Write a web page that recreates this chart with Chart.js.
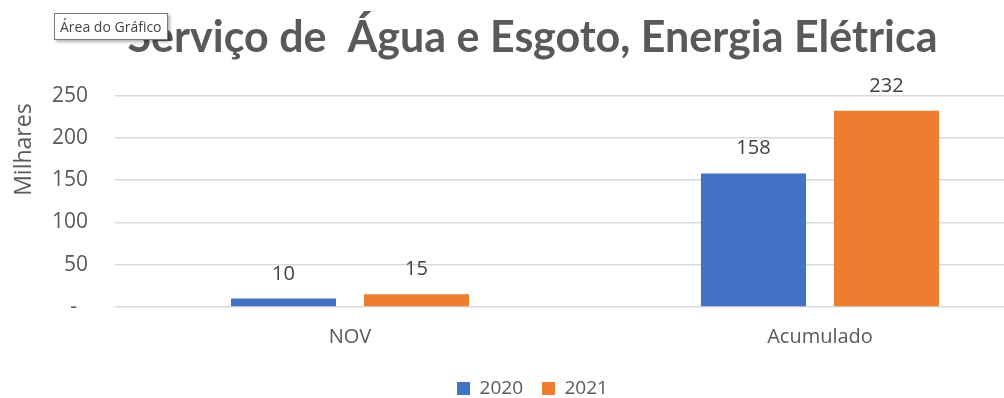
<!DOCTYPE html>
<html>
<head>
<meta charset="utf-8">
<script src="https://cdn.jsdelivr.net/npm/chart.js@4"></script>
<style>
  html, body { margin: 0; padding: 0; background: #fff; overflow: hidden; }
  #wrap { position: relative; width: 1066px; height: 408px; }
  #tag {
    position: absolute; left: 54px; top: 13px; z-index: 2;
    background: #fff; border: 1px solid #7a7a7a;
    box-shadow: 2px 2px 3px rgba(0,0,0,0.3);
    font: 14px "Open Sans", sans-serif; color: #444;
    padding: 2px 5px; line-height: 21px;
  }
</style>
</head>
<body>
<div id="wrap">
  <div id="tag">Área do Gráfico</div>
  <canvas id="chart" width="1066" height="408"></canvas>
</div>
<script>
var categories = ['NOV', 'Acumulado'];
var values2020 = [10, 158];
var values2021 = [15, 232];
var seriesNames = ['2020', '2021'];
var yTicks = [0, 50, 100, 150, 200, 250];

var textGrey = '#595959';

// writes each bar's value above it
var barValues = {
    id: 'barValues',
    afterDatasetsDraw: function(chart) {
        var ctx = chart.ctx;
        ctx.save();
        ctx.font = '20px "Open Sans", sans-serif';
        ctx.fillStyle = '#404040';
        ctx.textAlign = 'center';
        ctx.textBaseline = 'alphabetic';
        chart.data.datasets.forEach(function(ds, i) {
            chart.getDatasetMeta(i).data.forEach(function(bar, j) {
                ctx.fillText(ds.data[j], bar.x, bar.y - 19);
            });
        });
        ctx.restore();
    }
};

// y axis caption, sitting in the upper half of the axis
var unitLabel = {
    id: 'unitLabel',
    afterDraw: function(chart) {
        var ctx = chart.ctx;
        var area = chart.chartArea;
        ctx.save();
        ctx.translate(chart.scales.y.left + 14.5, area.top + 54);
        ctx.rotate(-Math.PI / 2);
        ctx.font = '23px "Open Sans", sans-serif';
        ctx.fillStyle = textGrey;
        ctx.textAlign = 'center';
        ctx.textBaseline = 'middle';
        ctx.fillText('Milhares', 0, 0);
        ctx.restore();
    }
};

new Chart(document.getElementById('chart'), {
    type: 'bar',
    data: {
        labels: categories,
        datasets: [{
            label: seriesNames[0],
            data: values2020,
            backgroundColor: '#4472c4'
        }, {
            label: seriesNames[1],
            data: values2021,
            backgroundColor: '#ed7d31'
        }]
    },
    options: {
        responsive: false,
        animation: false,
        categoryPercentage: 0.566,
        barPercentage: 0.79,
        layout: { padding: { left: 10, right: 11, top: 0, bottom: 0 } },
        scales: {
            x: {
                grid: { display: false },
                border: { display: false },
                ticks: { color: textGrey, font: { family: 'Open Sans', size: 20 }, padding: 10 },
                afterFit: function(axis) { axis.height = 53; }
            },
            y: {
                min: 0,
                max: 250,
                afterBuildTicks: function(axis) {
                    axis.ticks = yTicks.map(function(v) { return { value: v }; });
                },
                afterFit: function(axis) { axis.width = 105; },
                grid: { color: '#d9d9d9', lineWidth: 1.5, drawTicks: false },
                border: { display: false },
                ticks: {
                    color: textGrey,
                    font: { family: 'Open Sans', size: 21 },
                    padding: 27,
                    callback: function(v) { return v === 0 ? '-  ' : v; }
                }
            }
        },
        plugins: {
            title: {
                display: true,
                text: 'Serviço de  Água e Esgoto, Energia Elétrica',
                color: textGrey,
                font: { family: 'Lato', size: 43, weight: 'bold' },
                padding: { top: 12, bottom: 32 }
            },
            legend: {
                position: 'bottom',
                labels: {
                    color: textGrey,
                    font: { family: 'Open Sans', size: 19 },
                    boxWidth: 13,
                    boxHeight: 13,
                    padding: 19
                }
            },
            tooltip: { enabled: false }
        }
    },
    plugins: [barValues, unitLabel]
});
</script>
</body>
</html>
